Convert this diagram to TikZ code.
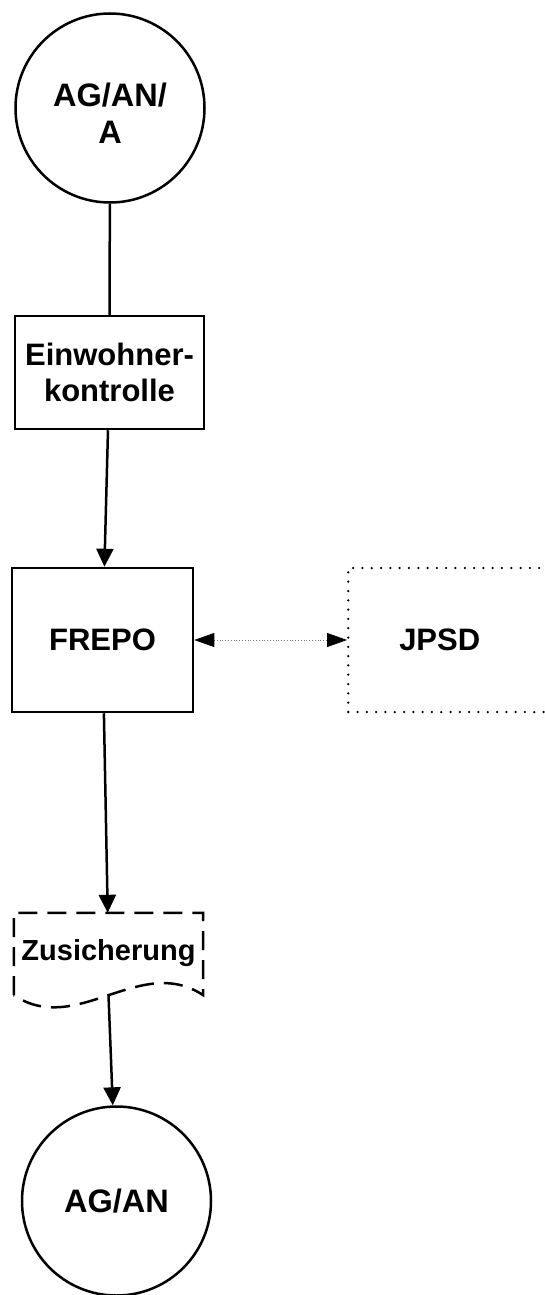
\documentclass[tikz,border=0pt]{standalone}
\usepackage{fontspec}
\setmainfont{Liberation Sans}
\usepackage{tikz}
\usetikzlibrary{arrows.meta}
\usetikzlibrary{calc}

\begin{document}
\begin{tikzpicture}[x=1pt,y=-1pt,
    font=\bfseries\fontsize{31}{36}\selectfont,
    terminal/.style={draw,circle,line width=2.5pt,minimum size=189pt,inner sep=0pt,align=center,font=\bfseries\fontsize{32.5}{36}\selectfont},
    process/.style={draw,rectangle,line width=2.5pt,inner sep=0pt,align=center},
    flow/.style={line width=2.5pt,-{Triangle[length=18pt,width=17pt]}},
    link/.style={line width=0.8pt,dotted,black!55,{Triangle[length=20pt,width=14pt,color=black]}-{Triangle[length=20pt,width=14pt,color=black]}}]
    \useasboundingbox (0,0) rectangle (544,1295);
    \path (110,108) node [terminal,text height=70pt,text depth=0pt] (aga) {AG/AN/\\A};
    \path (109.5,372.5) node [process,minimum width=189pt,minimum height=113pt] (ek) {Einwohner-\\kontrolle};
    \draw [line width=2.5pt] (aga) -- (ek);
    \path (102.5,640) node [process,minimum width=181pt,minimum height=144pt] (frepo) {FREPO};
    \draw [flow] (ek) -- (frepo);
    \path (347,640) node [process,line cap=round,dash pattern=on 0pt off 9.3pt,anchor=west,minimum height=144pt,text width=140pt,align=left,inner xsep=51pt] (jpsd) {JPSD};
    \draw [link] (frepo) -- (jpsd);
    \path (108.5,954) node [minimum width=189pt,minimum height=82pt,inner sep=0pt,font=\bfseries\fontsize{29}{34}\selectfont] (zus) {\raisebox{9pt}{Zusicherung}};
    \draw [line width=2.5pt,dash pattern=on 19pt off 10pt] (zus.south west) -- (zus.north west) -- (zus.north east) -- (zus.south east)
        .. controls ($(zus.south east)+(-63,-42)$) and ($(zus.south west)+(63,42)$) .. (zus.south west);
    \draw [flow] (frepo) -- (zus);
    \path (116.5,1201) node [terminal] (agb) {AG/AN};
    \draw [flow] (zus.south) -- (agb);
\end{tikzpicture}
\end{document}
